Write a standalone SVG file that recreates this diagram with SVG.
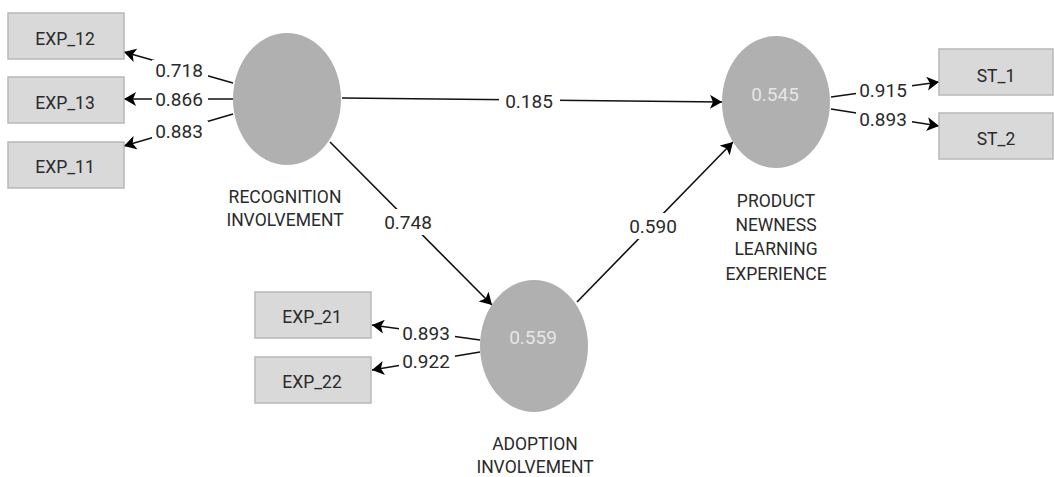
<svg xmlns="http://www.w3.org/2000/svg" width="1054" height="477" viewBox="0 0 1054 477">
<defs>
<marker id="ah" markerUnits="userSpaceOnUse" markerWidth="14" markerHeight="14" refX="12" refY="7" orient="auto">
<path d="M0,0 L12,7 L0,14 L3,7 z" fill="#000"/>
</marker>
<style>
.box{fill:#d9d9d9;stroke:#b8b8b8;stroke-width:1.5}
.lv{fill:#b0b0b0}
.t{font-family:Roboto,"Liberation Sans",sans-serif;fill:#2a2a2a;text-anchor:middle}
.bt{font-size:17.5px}
.nt{font-size:19px}
.lt{font-size:17.5px}
.vt{font-family:Roboto,"Liberation Sans",sans-serif;fill:#e6e6e6;font-size:19px;text-anchor:middle}
.c{stroke:#111;stroke-width:1.6;fill:none;marker-end:url(#ah)}
.m{fill:#fff}
</style>
</defs>
<rect width="1054" height="477" fill="#fff"/>
<g id="connectors">
<path class="c" d="M233,83 L124,52"/>
<path class="c" d="M233,99 L124,99"/>
<path class="c" d="M233,114 L124,146"/>
<path class="c" d="M480,340 L372,325"/>
<path class="c" d="M480,352 L372,370"/>
<path class="c" d="M831,97 L939,82"/>
<path class="c" d="M831,109 L939,126"/>
<path class="c" d="M342,98 L722,102"/>
<path class="c" d="M330,142 L492,305"/>
<path class="c" d="M577,302 L733,142"/>
<rect class="m" x="152" y="60" width="56" height="20"/>
<rect class="m" x="152" y="90" width="56" height="20"/>
<rect class="m" x="152" y="121" width="56" height="20"/>
<rect class="m" x="399" y="323" width="56" height="20"/>
<rect class="m" x="399" y="351" width="56" height="20"/>
<rect class="m" x="856" y="80" width="56" height="20"/>
<rect class="m" x="856" y="109" width="56" height="20"/>
<rect class="m" x="499" y="91" width="61" height="20"/>
<rect class="m" x="378" y="209" width="60" height="26"/>
<rect class="m" x="623" y="213" width="60" height="26"/>
<text class="t nt" x="179" y="77">0.718</text>
<text class="t nt" x="179" y="106">0.866</text>
<text class="t nt" x="179" y="138">0.883</text>
<text class="t nt" x="426" y="340">0.893</text>
<text class="t nt" x="426" y="368">0.922</text>
<text class="t nt" x="883" y="97">0.915</text>
<text class="t nt" x="883" y="126">0.893</text>
<text class="t nt" x="529" y="108">0.185</text>
<text class="t nt" x="408" y="229">0.748</text>
<text class="t nt" x="653" y="233">0.590</text>
</g>
<g id="EXP_12"><rect class="box" x="8" y="13" width="116" height="46"/><text class="t bt" x="65" y="45">EXP_12</text></g>
<g id="EXP_13"><rect class="box" x="8" y="77" width="116" height="46"/><text class="t bt" x="65" y="109">EXP_13</text></g>
<g id="EXP_11"><rect class="box" x="8" y="142" width="116" height="46"/><text class="t bt" x="65" y="173">EXP_11</text></g>
<g id="EXP_21"><rect class="box" x="255" y="292" width="116" height="46"/><text class="t bt" x="312" y="323">EXP_21</text></g>
<g id="EXP_22"><rect class="box" x="255" y="357" width="116" height="46"/><text class="t bt" x="312" y="388">EXP_22</text></g>
<g id="ST_1"><rect class="box" x="939" y="49" width="114" height="46"/><text class="t bt" x="996" y="82">ST_1</text></g>
<g id="ST_2"><rect class="box" x="939" y="113" width="114" height="46"/><text class="t bt" x="996" y="145">ST_2</text></g>
<g id="recognition">
<ellipse class="lv" cx="287" cy="99" rx="54" ry="66"/>
<text class="t lt" x="285" y="203">RECOGNITION</text>
<text class="t lt" x="285" y="226">INVOLVEMENT</text>
</g>
<g id="product">
<ellipse class="lv" cx="776" cy="102" rx="54" ry="66"/>
<text class="vt" x="775" y="101">0.545</text>
<text class="t lt" x="776" y="207">PRODUCT</text>
<text class="t lt" x="776" y="231">NEWNESS</text>
<text class="t lt" x="776" y="255">LEARNING</text>
<text class="t lt" x="776" y="280">EXPERIENCE</text>
</g>
<g id="adoption">
<ellipse class="lv" cx="534" cy="346" rx="54" ry="66"/>
<text class="vt" x="533" y="344">0.559</text>
<text class="t lt" x="535" y="450">ADOPTION</text>
<text class="t lt" x="535" y="473">INVOLVEMENT</text>
</g>
</svg>
